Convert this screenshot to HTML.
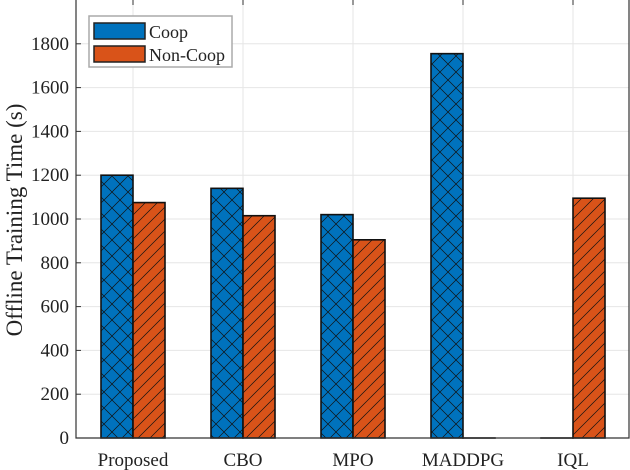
<!DOCTYPE html>
<html><head><meta charset="utf-8"><style>
body{margin:0;background:#fff;}
svg{display:block;font-family:"Liberation Serif",serif;}
</style></head><body>
<svg id="chart" width="630" height="470">
<defs>
<pattern id="xh" width="16" height="16" patternUnits="userSpaceOnUse">
<rect width="16" height="16" fill="#0072BD"/>
<path d="M0,0L16,16M16,0L0,16" stroke="#111" stroke-width="0.7"/>
</pattern>
<pattern id="dh" width="12" height="12" patternUnits="userSpaceOnUse">
<rect width="12" height="12" fill="#D95319"/>
<path d="M0,12L12,0M-3,3L3,-3M9,15L15,9" stroke="#111" stroke-width="0.7"/>
</pattern>
</defs>
</svg>
<script>
const categories=["Proposed","CBO","MPO","MADDPG","IQL"];
const coop=[1200,1140,1020,1755,0];
const noncoop=[1075,1015,905,0,1095];
const yTicks=[0,200,400,600,800,1000,1200,1400,1600,1800];
const ns="http://www.w3.org/2000/svg";
const svg=document.getElementById('chart');
const L=76,R=629,T=0,B=438,yMax=2000;
const y=v=>B-(v/yMax)*(B-T);
const xc=i=>133+i*110;
function mk(t,a,p){const e=document.createElementNS(ns,t);for(const k in a)e.setAttribute(k,a[k]);(p||svg).appendChild(e);return e;}
const grid=mk('g',{});


yTicks.forEach(v=>{
 mk('line',{x1:L,x2:R,y1:y(v),y2:y(v),stroke:'#e6e6e6','stroke-width':1},grid);
 const t=mk('text',{x:L-7,y:y(v)+6,'text-anchor':'end','font-size':19,fill:'#222'});
 t.textContent=v;
 
 
 mk('line',{x1:L,x2:L+5,y1:y(v),y2:y(v),stroke:'#333'});
});
categories.forEach((c,i)=>{
 mk('line',{x1:xc(i),x2:xc(i),y1:T,y2:B,stroke:'#e6e6e6'},grid);
 mk('line',{x1:xc(i),x2:xc(i),y1:T,y2:T+5,stroke:'#333'});
 mk('line',{x1:xc(i),x2:xc(i),y1:B,y2:B-5,stroke:'#333'});
 const t=mk('text',{x:xc(i),y:466,'text-anchor':'middle','font-size':19,fill:'#222'});
 t.textContent=c;
 
 
});
const w=32;
categories.forEach((c,i)=>{
 const b1=mk('rect',{x:xc(i)-w,y:y(coop[i]),width:w,height:Math.max(B-y(coop[i]),0.01),fill:'url(#xh)',stroke:'#111','stroke-width':1.6});
 
 
 const b2=mk('rect',{x:xc(i),y:y(noncoop[i]),width:w,height:Math.max(B-y(noncoop[i]),0.01),fill:'url(#dh)',stroke:'#111','stroke-width':1.6});
 
 
});
const ax=mk('path',{d:`M${L},${T}V${B}H${R}V${T}`,fill:'none',stroke:'#333','stroke-width':1.2});


const yl=mk('text',{x:0,y:0,transform:`translate(22,220) rotate(-90)`,'text-anchor':'middle','font-size':23,fill:'#222'});
yl.textContent='Offline Training Time (s)';


const lg=mk('g',{});


mk('rect',{x:89,y:16,width:143,height:51,fill:'#fff',stroke:'#aaa','stroke-width':1.5},lg);
mk('rect',{x:94,y:23,width:51,height:16,fill:'#0072BD',stroke:'#222','stroke-width':1.5},lg);
mk('rect',{x:94,y:46,width:51,height:16,fill:'#D95319',stroke:'#222','stroke-width':1.5},lg);
const t1=mk('text',{x:149,y:38,'font-size':18,fill:'#222'},lg);t1.textContent='Coop';


const t2=mk('text',{x:149,y:61,'font-size':18,fill:'#222'},lg);t2.textContent='Non-Coop';


</script>
</body></html>
